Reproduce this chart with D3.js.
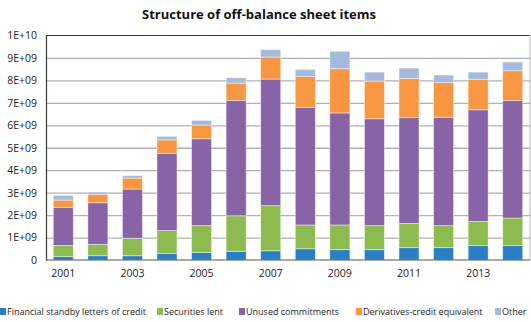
<!DOCTYPE html>
<html>
<head>
<meta charset="utf-8">
<script src="https://d3js.org/d3.v7.min.js"></script>
<style>
  body { margin: 0; background: #fff; }
  svg { display: block; font-family: "Open Sans", "DejaVu Sans", sans-serif; }
  .grid line { stroke: #b0b0b0; stroke-width: 1.3; }
  .grid .domain { display: none; }
  .tick text { fill: #222; }
</style>
</head>
<body>
<svg width="531" height="322"></svg>
<script>
// data, units of 1E+09
var years = ["2001","2002","2003","2004","2005","2006","2007","2008","2009","2010","2011","2012","2013","2014"];
var seriesNames = ["Financial standby letters of credit","Securities lent","Unused commitments","Derivatives-credit equivalent","Other"];
var standby     = [0.15,0.19,0.19,0.30,0.33,0.39,0.41,0.50,0.46,0.46,0.55,0.55,0.64,0.64];
var securities  = [0.50,0.51,0.78,1.01,1.20,1.58,2.01,1.06,1.10,1.07,1.08,0.98,1.08,1.23];
var unused      = [1.70,1.85,2.19,3.44,3.87,5.14,5.64,5.24,4.99,4.76,4.71,4.83,4.97,5.23];
var derivatives = [0.32,0.38,0.49,0.60,0.61,0.77,0.98,1.37,1.97,1.68,1.75,1.54,1.36,1.33];
var other       = [0.21,0.10,0.11,0.16,0.21,0.24,0.33,0.32,0.78,0.40,0.46,0.34,0.32,0.39];
var yTicks = [0,1e9,2e9,3e9,4e9,5e9,6e9,7e9,8e9,9e9,1e10];
var yTickLabels = ["0","1E+09","2E+09","3E+09","4E+09","5E+09","6E+09","7E+09","8E+09","9E+09","1E+10"];
var xTickLabels = ["2001","2003","2005","2007","2009","2011","2013"];
var colors = ["#2a7fc4","#8dbb4f","#8863a5","#f99641","#a6bbdb"];

var svg = d3.select("svg"),
    margin = {top:35.5, right:1, bottom:62, left:46},
    width = +svg.attr("width") - margin.left - margin.right,
    height = +svg.attr("height") - margin.top - margin.bottom;

var table = years.map(function(y, i){
  return {year:y, s0:standby[i]*1e9, s1:securities[i]*1e9, s2:unused[i]*1e9, s3:derivatives[i]*1e9, s4:other[i]*1e9};
});
var keys = ["s0","s1","s2","s3","s4"];
var stacked = d3.stack().keys(keys)(table);

var x = d3.scaleBand().domain(years).range([0, width]).paddingInner(0.42).paddingOuter(0.21),
    y = d3.scaleLinear().domain([0, 1e10]).range([height, 0]);

svg.append("text")
  .attr("x", 259).attr("y", 18.5)
  .attr("text-anchor", "middle")
  .attr("font-size", "13px").attr("font-weight", "bold")
  .attr("fill", "#111")
  .text("Structure of off-balance sheet items");

var g = svg.append("g").attr("transform", "translate(" + margin.left + "," + margin.top + ")");

// gridlines
g.append("g").attr("class", "grid")
  .call(d3.axisLeft(y).tickValues(yTicks.slice(1, -1)).tickSize(-width).tickFormat(""));

// bars
g.selectAll(".series").data(stacked).enter().append("g")
  .attr("fill", function(d, i){ return colors[i]; })
  .selectAll("rect").data(function(d){ return d; }).enter().append("rect")
  .attr("x", function(d){ return x(d.data.year); })
  .attr("y", function(d){ return y(d[1]); })
  .attr("width", x.bandwidth())
  .attr("height", function(d){ return y(d[0]) - y(d[1]); })
  .attr("stroke", "rgba(255,255,255,0.55)")
  .attr("stroke-width", 0.8);

// frame
g.append("line").attr("x1", 0).attr("x2", width).attr("y1", 0).attr("y2", 0).attr("stroke", "#3a3a3a").attr("stroke-width", 1.2);
g.append("line").attr("x1", width).attr("x2", width).attr("y1", 0).attr("y2", height).attr("stroke", "#bbb").attr("stroke-width", 1);
g.append("line").attr("x1", 0).attr("x2", width).attr("y1", height).attr("y2", height).attr("stroke", "#555").attr("stroke-width", 1.2);

// y axis
var yAxis = g.append("g")
  .call(d3.axisLeft(y).tickValues(yTicks).tickSize(0).tickPadding(9)
    .tickFormat(function(d, i){ return yTickLabels[i]; }));
yAxis.select(".domain").attr("stroke", "#3a3a3a").attr("stroke-width", 1.2);
yAxis.selectAll("text").attr("font-size", "10.5px").attr("font-family", "Open Sans, sans-serif");

// x axis
var xAxis = g.append("g").attr("transform", "translate(0," + height + ")")
  .call(d3.axisBottom(x).tickValues(xTickLabels).tickSize(0).tickPadding(10));
xAxis.select(".domain").remove();
xAxis.selectAll("text").attr("font-size", "10.5px").attr("font-family", "Open Sans, sans-serif");

// legend
var legendX = [0, 157, 239, 356, 495];
var legend = svg.append("g").attr("transform", "translate(0,311.5)");
seriesNames.forEach(function(name, i){
  var item = legend.append("g").attr("transform", "translate(" + legendX[i] + ",0)");
  item.append("rect").attr("x", 0).attr("y", -3.5).attr("width", 6).attr("height", 7).attr("fill", colors[i]);
  item.append("text").attr("x", 7).attr("y", 3.3)
    .attr("font-size", "9px").attr("fill", "#222").text(name);
});
</script>
</body>
</html>
